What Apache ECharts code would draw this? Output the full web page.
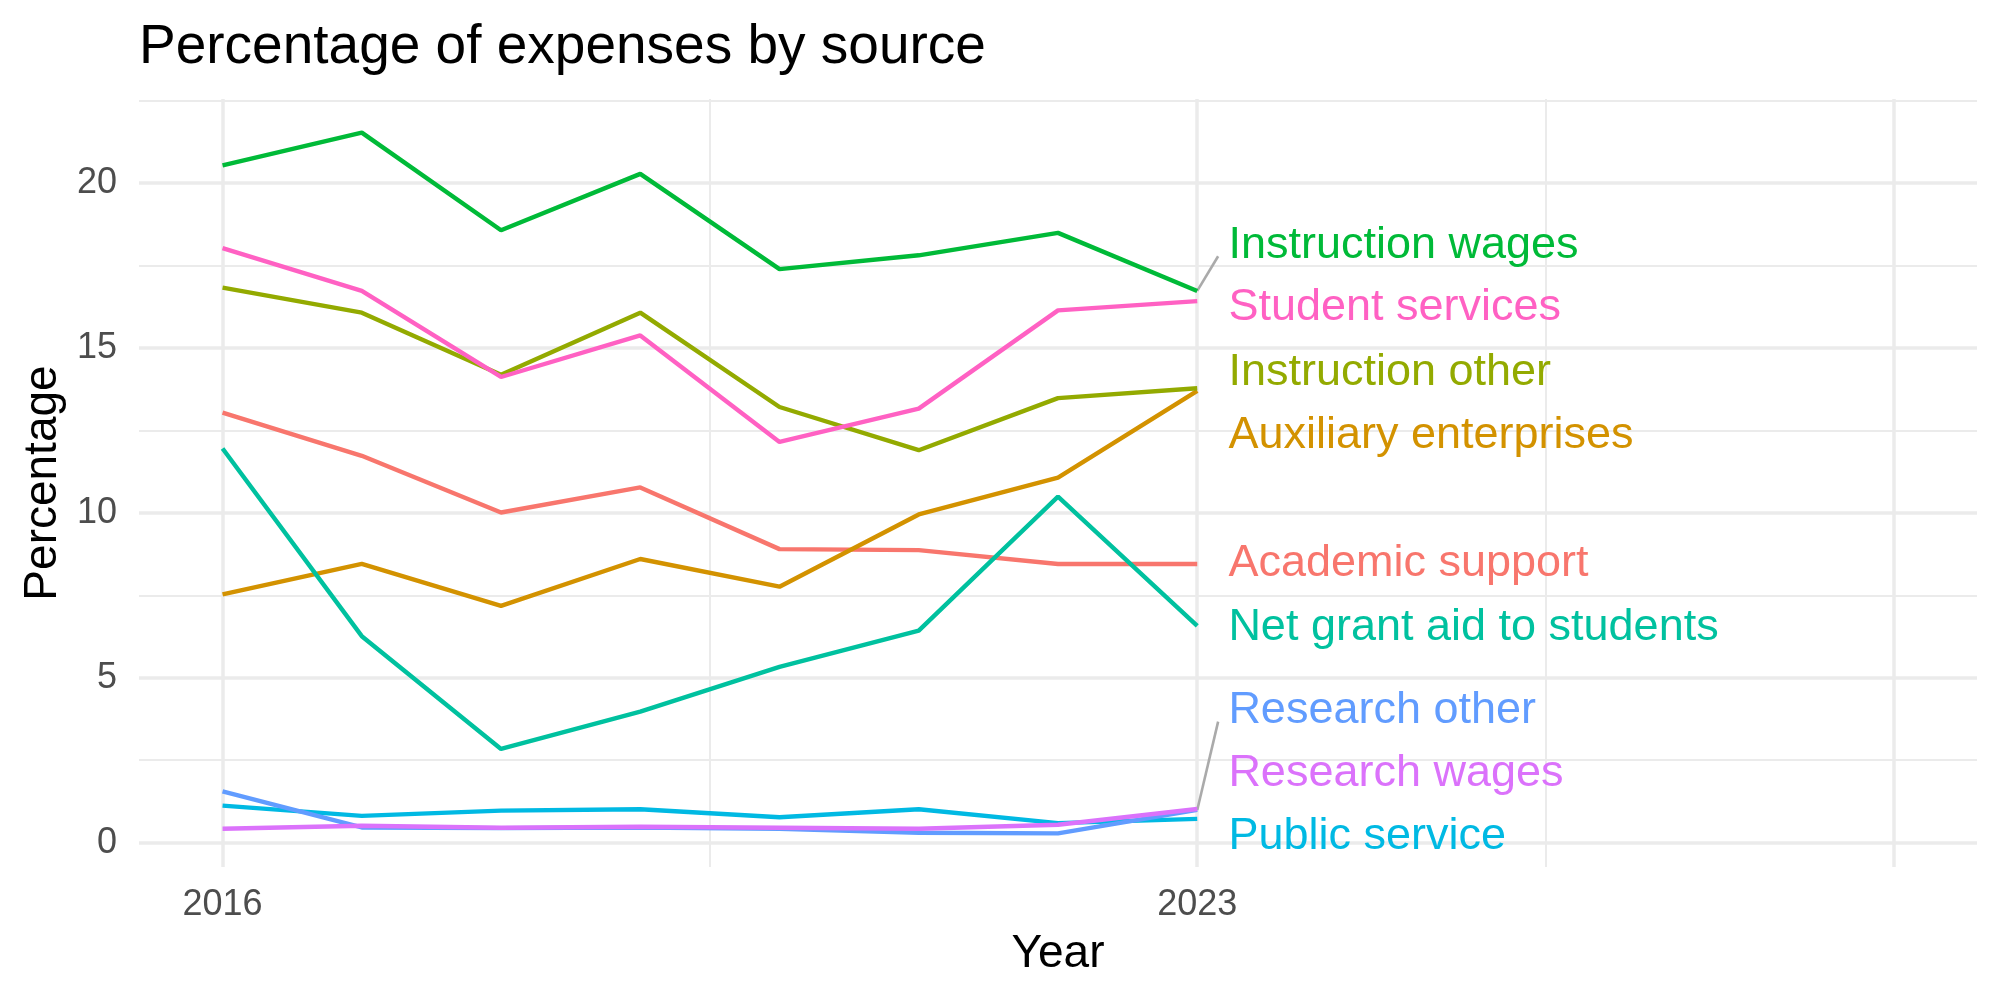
<!DOCTYPE html>
<html>
<head>
<meta charset="utf-8">
<script src="https://cdn.jsdelivr.net/npm/echarts@6/dist/echarts.min.js"></script>
<style>
  html, body { margin: 0; background: #fff; }
  #chart { width: 2000px; height: 1000px; }
</style>
</head>
<body>
<div id="chart"></div>
<script>
// data
const years = [2016, 2017, 2018, 2019, 2020, 2021, 2022, 2023];
const academicSupport      = [13.04, 11.73, 10.01, 10.77, 8.90, 8.87, 8.45, 8.45];
const auxiliaryEnterprises = [7.53, 8.45, 7.18, 8.60, 7.76, 9.95, 11.07, 13.70];
const instructionOther     = [16.83, 16.07, 14.19, 16.07, 13.21, 11.90, 13.48, 13.78];
const instructionWages     = [20.54, 21.53, 18.57, 20.28, 17.39, 17.81, 18.49, 16.73];
const netGrantAid          = [11.95, 6.26, 2.84, 3.97, 5.33, 6.43, 10.49, 6.57];
const publicService        = [1.12, 0.81, 0.97, 1.01, 0.77, 1.01, 0.59, 0.72];
const researchOther        = [1.55, 0.46, 0.44, 0.46, 0.42, 0.30, 0.28, 0.99];
const researchWages        = [0.42, 0.51, 0.45, 0.48, 0.45, 0.42, 0.54, 1.02];
const studentServices      = [18.03, 16.73, 14.12, 15.38, 12.15, 13.16, 16.14, 16.42];

const names = ['Academic support', 'Auxiliary enterprises', 'Instruction other',
  'Instruction wages', 'Net grant aid to students', 'Public service',
  'Research other', 'Research wages', 'Student services'];
const values = [academicSupport, auxiliaryEnterprises, instructionOther,
  instructionWages, netGrantAid, publicService,
  researchOther, researchWages, studentServices];
const colors = ['#F8766D', '#D39200', '#93AA00', '#00BA38', '#00C19F',
  '#00B9E3', '#619CFF', '#DB72FB', '#FF61C3'];

// repelled label heights (in data units) and which ones get a leader segment
const labelY = [8.45, 12.35, 14.26, 18.11, 6.52, 0.19, 4.0, 2.09, 16.22];
const withSegment = ['Instruction wages', 'Research other'];

const yTicks = [0, 5, 10, 15, 20];
const yMinor = [2.5, 7.5, 12.5, 17.5, 22.5];
const xTicks = [2016, 2023, 2028];
const xTickLabels = [2016, 2023];
const xMinor = [2019.5, 2025.5];

const font = "'Liberation Sans', Arial, Helvetica, sans-serif";
const labelX = 2023.22;
const segX = 2023.15;

const chart = echarts.init(document.getElementById('chart'));

var series = [];
for (var i = 0; i < names.length; i++) {
  series.push({
    name: names[i],
    type: 'line',
    showSymbol: false,
    silent: true,
    z: 3,
    lineStyle: { color: colors[i], width: 4.4 },
    data: years.map(function (y, k) { return [y, values[i][k]]; })
  });
}
for (var j = 0; j < names.length; j++) {
  if (withSegment.indexOf(names[j]) < 0) continue;
  var last = values[j][values[j].length - 1];
  series.push({
    type: 'line',
    showSymbol: false,
    silent: true,
    z: 2,
    lineStyle: { color: '#AAAAAA', width: 2.6 },
    data: [[2023, last], [segX, labelY[j] - 0.33]]
  });
}
series.push({
  type: 'scatter',
  symbolSize: 1,
  silent: true,
  z: 4,
  itemStyle: { color: 'rgba(0,0,0,0)', opacity: 1 },
  label: {
    show: true,
    position: 'right',
    distance: 0,
    formatter: '{b}',
    fontSize: 45,
    fontFamily: font
  },
  data: names.map(function (n, k) {
    return { name: n, value: [labelX, labelY[k]], label: { color: colors[k] } };
  })
});

var option = {
  backgroundColor: '#ffffff',
  animation: false,
  title: {
    text: 'Percentage of expenses by source',
    left: 134,
    top: 15,
    textStyle: { fontSize: 55, fontWeight: 'normal', color: '#000000', fontFamily: font }
  },
  grid: { left: 139, right: 23, top: 99, bottom: 133, containLabel: false },
  xAxis: [{
    type: 'value',
    min: 2015.4,
    max: 2028.6,
    name: 'Year',
    nameLocation: 'middle',
    nameGap: 64,
    nameTextStyle: { fontSize: 46, color: '#000000', fontFamily: font },
    axisLine: { show: false },
    axisTick: { show: false, customValues: xTicks },
    axisLabel: {
      customValues: xTickLabels,
      formatter: function (v) { return String(v); },
      fontSize: 36, color: '#4D4D4D', margin: 20, fontFamily: font
    },
    splitLine: { show: true, lineStyle: { color: '#EBEBEB', width: 3.5 } }
  }, {
    type: 'value',
    min: 2015.4,
    max: 2028.6,
    position: 'bottom',
    axisLine: { show: false },
    axisTick: { show: false, customValues: xMinor },
    axisLabel: { show: false },
    splitLine: { show: true, lineStyle: { color: '#EBEBEB', width: 2 } }
  }],
  yAxis: [{
    type: 'value',
    min: -0.74,
    max: 22.55,
    name: 'Percentage',
    nameLocation: 'middle',
    nameGap: 69,
    nameRotate: 90,
    nameTextStyle: { fontSize: 46, color: '#000000', fontFamily: font },
    axisLine: { show: false },
    axisTick: { show: false, customValues: yTicks },
    axisLabel: {
      customValues: yTicks,
      fontSize: 36, color: '#4D4D4D', margin: 22, fontFamily: font
    },
    splitLine: { show: true, lineStyle: { color: '#EBEBEB', width: 3.5 } }
  }, {
    type: 'value',
    min: -0.74,
    max: 22.55,
    position: 'left',
    axisLine: { show: false },
    axisTick: { show: false, customValues: yMinor },
    axisLabel: { show: false },
    splitLine: { show: true, lineStyle: { color: '#EBEBEB', width: 2 } }
  }],
  series: series
};

chart.setOption(option);
</script>
</body>
</html>
